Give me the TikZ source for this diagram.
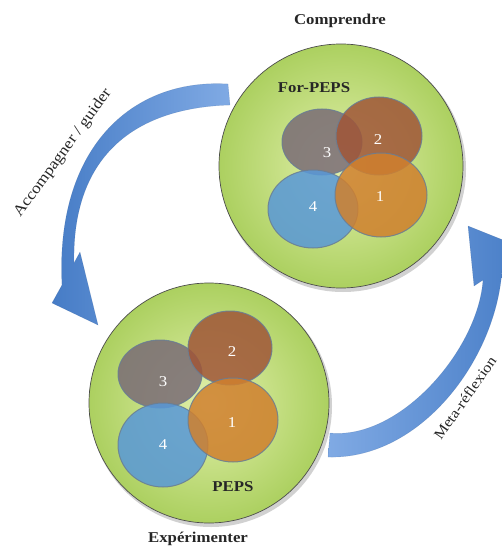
\documentclass[tikz,border=0pt]{standalone}
\usepackage{fontspec}
\setmainfont{Liberation Serif}[FakeStretch=1.12]
\usetikzlibrary{shapes.geometric}
\definecolor{gin}{RGB}{226,240,172}
\definecolor{gout}{RGB}{172,208,96}
\definecolor{cgrey}{RGB}{122,108,118}
\definecolor{cbrown}{RGB}{160,86,56}
\definecolor{corange}{RGB}{208,128,46}
\definecolor{cblue}{RGB}{88,152,216}
\definecolor{cedge}{RGB}{105,125,148}
\definecolor{adark}{RGB}{70,124,198}
\definecolor{alight}{RGB}{128,170,228}
\begin{document}
\begin{tikzpicture}[x=1pt,y=-1pt,
  bigc/.style={circle, minimum size=#1, inner sep=0pt, inner color=gin, outer color=gout, draw=black!70, line width=0.7pt},
  shadowc/.style={circle, minimum size=#1, inner sep=0pt, fill=black!60, opacity=0.3},
  sub/.style={ellipse, inner sep=0pt, draw=cedge, line width=1pt, fill opacity=0.85, draw opacity=0.85},
  num/.style={text=white, font=\fontsize{15}{15}\selectfont},
  ttl/.style={text=black!85, font=\bfseries\fontsize{15}{15}\selectfont},
  albl/.style={text=black!85, font=\fontsize{15.5}{15.5}\selectfont},
  barrowL/.style={left color=adark, right color=alight, draw=adark!70!black, draw opacity=0.25, line width=0.4pt},
  barrowR/.style={shading angle=135, left color=alight, right color=adark, draw=adark!70!black, draw opacity=0.25, line width=0.4pt}
]
\useasboundingbox (0,0) rectangle (502,548);
\clip (0,0) rectangle (502,548);

% block arrows
\path[barrowL] (228,84) .. controls (130,78) and (55,150) .. (62,285)
  -- (52,303) -- (98,325) -- (80,252) -- (74,263)
  .. controls (72,160) and (130,108) .. (230,105) -- cycle;
\path[barrowR] (330,433) .. controls (400,440) and (478,350) .. (483,280)
  -- (474,286) -- (468,226) -- (528,250) -- (502,270)
  .. controls (496,360) and (420,460) .. (328,457) -- cycle;

% big circles
\node[shadowc=246pt] (topsh) at (343,169) {};
\node[bigc=244pt] (top) at (341,166) {};
\node[shadowc=242pt] (botsh) at (211,406) {};
\node[bigc=240pt] (bot) at (209,403) {};

% top sub-circles
\node[sub, fill=cgrey, minimum width=80pt, minimum height=66pt] (t3) at (322,142) {};
\node[sub, fill=cbrown, minimum width=86pt, minimum height=78pt] (t2) at (379,136) {};
\node[sub, fill=cblue, minimum width=90pt, minimum height=78pt] (t4) at (313,209) {};
\node[sub, fill=corange, minimum width=92pt, minimum height=84pt] (t1) at (381,195) {};
\node[num] (l3) at (327,153) {3};
\node[num] (l2) at (378,140) {2};
\node[num] (l1) at (380,197) {1};
\node[num] (l4) at (313,207) {4};

% bottom sub-circles
\node[sub, fill=cgrey, minimum width=84pt, minimum height=68pt] (b3) at (160,374) {};
\node[sub, fill=cbrown, minimum width=84pt, minimum height=74pt] (b2) at (230,348) {};
\node[sub, fill=cblue, minimum width=90pt, minimum height=84pt] (b4) at (163,445) {};
\node[sub, fill=corange, minimum width=90pt, minimum height=84pt] (b1) at (233,420) {};
\node[num] (m3) at (163,382) {3};
\node[num] (m2) at (232,352) {2};
\node[num] (m1) at (232,423) {1};
\node[num] (m4) at (163,445) {4};

% titles
\node[ttl] (comp) at (340,21) {Comprendre};
\node[ttl] (forpeps) at (314,88) {For-PEPS};
\node[ttl] (peps) at (233,487) {PEPS};
\node[ttl] (exp) at (198,539) {Expérimenter};

% arrow labels
\node[albl, rotate=54] (acc) at (63,153) {Accompagner / guider};
\node[albl, rotate=55, font=\fontsize{14.5}{14.5}\selectfont] (meta) at (465,398) {Meta-réflexion};
\end{tikzpicture}
\end{document}
